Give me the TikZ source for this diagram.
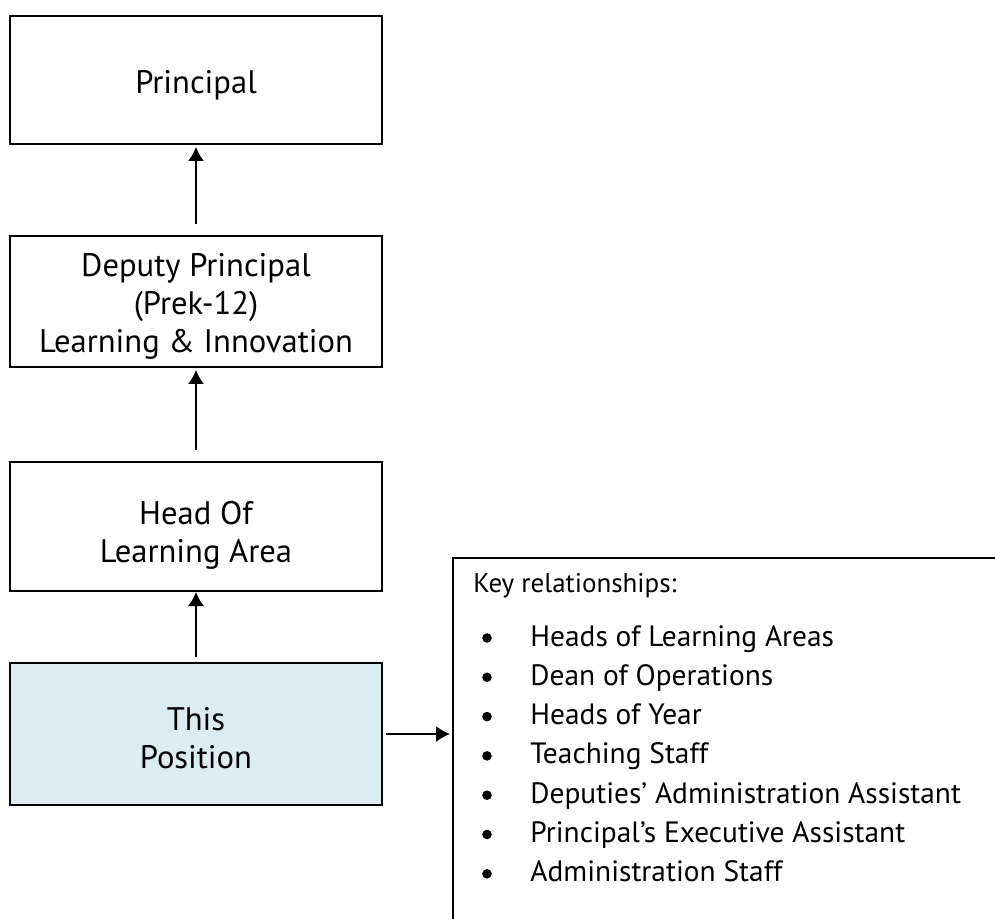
\documentclass[tikz,border=0pt]{standalone}
\usepackage{fontspec}
\setmainfont{PT Sans}
\usetikzlibrary{arrows.meta,positioning,calc}
\definecolor{posblue}{HTML}{DBEDF3}
\tikzset{
block/.style = {draw, line width=1pt, fill=white, rectangle, minimum width=186pt},
here/.style = {block, fill=posblue},
boxtext/.style = {align=center, inner sep=0pt, font=\fontsize{16.3}{19}\selectfont},
keybox/.style = {draw, line width=1pt, rectangle, anchor=north west, minimum width=360pt, minimum height=210pt},
keytitle/.style = {anchor=base west, inner sep=0pt, font=\fontsize{13.5}{15}\selectfont},
keyitem/.style = {anchor=base west, inner sep=0pt, font=\fontsize{14.7}{16}\selectfont},
keydot/.style = {circle, fill, inner sep=0pt, minimum size=4.8pt},
link/.style = {-{Latex[length=7pt,width=8pt]}, line width=0.8pt}
}

\begin{document}
\begin{tikzpicture}[x=0.5pt, y=-0.5pt]
	\useasboundingbox (0,0) rectangle (995,919);
	\clip (0,0) rectangle (995,919);
	% chain of boxes
	\node[block, minimum height=64pt, label={[boxtext, yshift=-2.5pt, name=principaltext]center:Principal}] (principal) at (196,80) {};
	\node[block, minimum height=65.5pt, label={[boxtext, yshift=-2.5pt, name=deputytext]center:Deputy Principal\\(Prek-12)\\Learning \& Innovation}] (deputy) at (196,301.5) {};
	\node[block, minimum height=64.5pt, label={[boxtext, yshift=-4.5pt, name=headtext]center:Head Of\\Learning Area}] (head) at (196,526.5) {};
	\node[here, minimum height=71pt, label={[boxtext, yshift=-2pt, name=thistext]center:This\\Position}] (this) at (196,734) {};
	% key relationships
	\node[keybox] (key) at (452,557) {};
	\node[keytitle] (keyhead) at (473,592) {Key relationships:};
	\foreach \item [count=\i] in {Heads of Learning Areas, Dean of Operations, Heads of Year, Teaching Staff, Deputies' Administration Assistant, Principal's Executive Assistant, Administration Staff}{
		\node[keydot] (dot\i) at (487,{598.7+39.3*\i}) {};
		\node[keyitem] (item\i) at (530,{606.7+39.3*\i}) {\item};
	}
	\draw[link, shorten <=5.5pt, shorten >=1pt] (deputy.north) -- (principal.south);
	\draw[link, shorten <=5.5pt, shorten >=1pt] (head.north) -- (deputy.south);
	\draw[link, shorten <=2.5pt, shorten >=0pt] (this.north) -- (head.south);
	\draw[link, shorten <=1.5pt, shorten >=1pt] (this.east) -- (this.east -| key.west);
\end{tikzpicture}
\end{document}
